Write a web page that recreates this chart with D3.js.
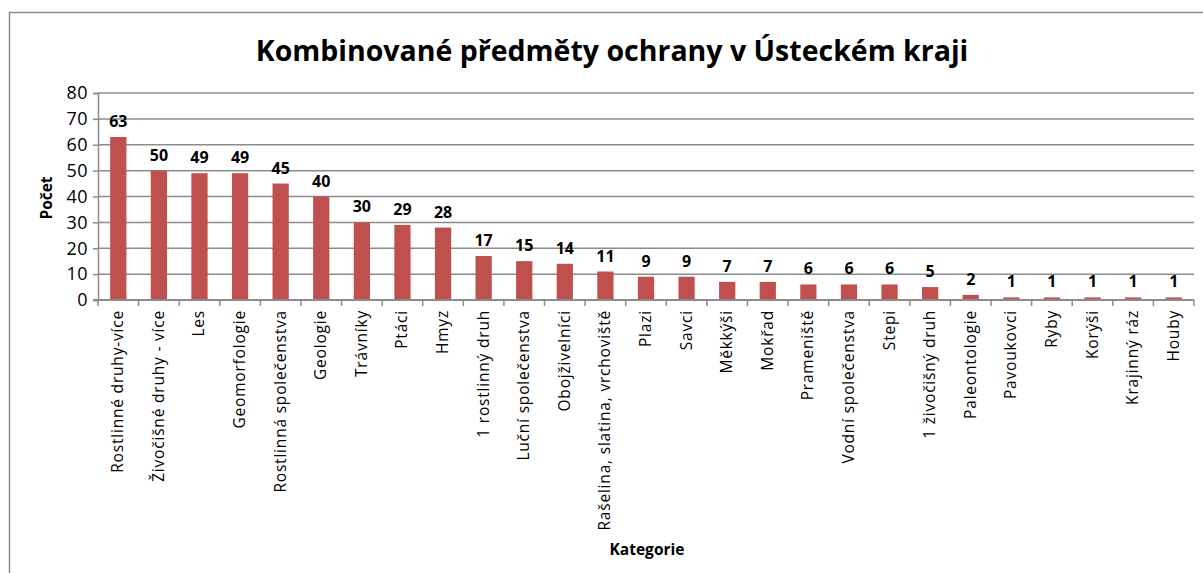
<!DOCTYPE html>
<html><head><meta charset="utf-8">
<script src="https://cdn.jsdelivr.net/npm/d3@7"></script>
<style>
body{margin:0;background:#fff;}
text{font-family:"Open Sans","DejaVu Sans",sans-serif;}
</style></head>
<body><svg id="c" width="1203" height="573"></svg>
<script>
const categories = ["Rostlinné druhy-více","Živočišné druhy - více","Les","Geomorfologie","Rostlinná společenstva","Geologie","Trávníky","Ptáci","Hmyz","1 rostlinný druh","Luční společenstva","Obojživelníci","Rašelina, slatina,  vrchoviště","Plazi","Savci","Měkkýši","Mokřad","Prameniště","Vodní společenstva","Stepi","1 živočišný druh","Paleontologie","Pavoukovci","Ryby","Korýši","Krajinný ráz","Houby"];
const values = [63,50,49,49,45,40,30,29,28,17,15,14,11,9,9,7,7,6,6,6,5,2,1,1,1,1,1];
const yTicks = [0,10,20,30,40,50,60,70,80];
const title = "Kombinované předměty ochrany v Ústeckém kraji";
const yTitle = "Počet";
const xTitle = "Kategorie";

const svg = d3.select("#c");
svg.append("rect").attr("x",9.5).attr("y",12.5).attr("width",1300).attr("height",700)
  .attr("fill","#fff").attr("stroke","#8c8c8c").attr("stroke-width",1.5);

const pL=98, pR=1194, pT=93, pB=300;
const x = d3.scaleBand().domain(categories).range([pL,pR]).paddingInner(0.6).paddingOuter(0.3);
const y = d3.scaleLinear().domain([0,80]).range([pB,pT]);

svg.append("g").selectAll("line").data(yTicks.filter(d=>d>0)).join("line")
  .attr("x1",pL).attr("x2",pR).attr("y1",d=>y(d)).attr("y2",d=>y(d))
  .attr("stroke","#8c8c8c").attr("stroke-width",1.5);

const ya = svg.append("g").attr("transform",`translate(${pL},0)`)
  .call(d3.axisLeft(y).tickValues(yTicks).tickSize(5).tickPadding(5));
ya.select(".domain").attr("stroke","#8c8c8c").attr("stroke-width",1.5);
ya.selectAll(".tick line").attr("stroke","#8c8c8c").attr("stroke-width",1.5);
ya.selectAll("text").attr("font-size",18).attr("fill","#000").attr("font-family","Open Sans").attr("letter-spacing",0.5);

svg.append("g").selectAll("rect").data(values).join("rect")
  .attr("x",(d,i)=>x(categories[i])).attr("width",x.bandwidth())
  .attr("y",d=>y(d)).attr("height",d=>y(0)-y(d)).attr("fill","#C0504D");

svg.append("g").selectAll("text").data(values).join("text")
  .attr("x",(d,i)=>x(categories[i])+x.bandwidth()/2).attr("y",d=>y(d)-10)
  .attr("text-anchor","middle").attr("font-size",16).attr("font-weight","bold").text(d=>d);

const bounds = d3.range(categories.length+1).map(i=>pL+i*x.step());
svg.append("line").attr("x1",pL-5).attr("x2",pR).attr("y1",pB).attr("y2",pB)
  .attr("stroke","#8c8c8c").attr("stroke-width",2);
svg.append("g").selectAll("line").data(bounds).join("line")
  .attr("x1",d=>d).attr("x2",d=>d).attr("y1",pB).attr("y2",pB+6)
  .attr("stroke","#8c8c8c").attr("stroke-width",1.5);

svg.append("g").selectAll("text").data(categories).join("text")
  .attr("transform",d=>`translate(${x(d)+x.bandwidth()/2+5},310) rotate(-90)`)
  .attr("text-anchor","end").attr("font-size",15.5).attr("letter-spacing",0.8).text(d=>d);

svg.append("text").attr("x",612).attr("y",61).attr("text-anchor","middle")
  .attr("font-size",28.5).attr("font-weight","bold").text(title);
svg.append("text").attr("transform","translate(52,198) rotate(-90)").attr("text-anchor","middle")
  .attr("font-size",15.5).attr("font-weight","bold").text(yTitle);
svg.append("text").attr("x",647).attr("y",555).attr("text-anchor","middle")
  .attr("font-size",15.5).attr("font-weight","bold").text(xTitle);
</script></body></html>
